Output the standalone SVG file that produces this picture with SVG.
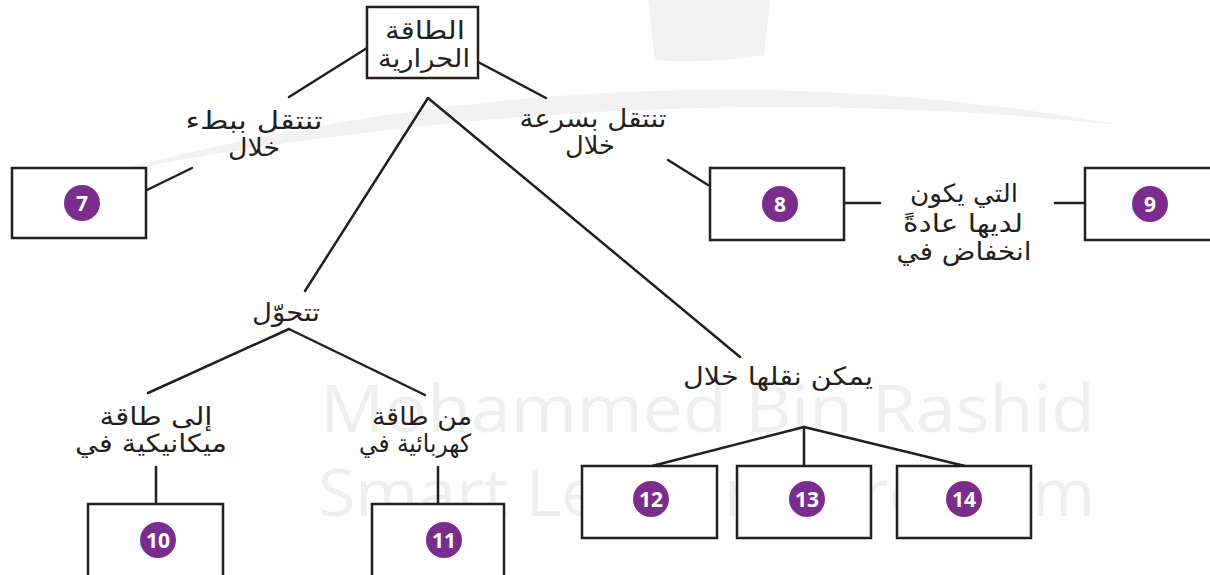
<svg xmlns="http://www.w3.org/2000/svg" width="1210" height="575" viewBox="0 0 1210 575">
<style>
.ln{stroke:#231f20;stroke-width:2.5;fill:none;stroke-linecap:round}
.bx{fill:#fff;stroke:#231f20;stroke-width:2.5}
.ar{font-family:"DejaVu Sans",sans-serif;font-size:25px;fill:#231f20;text-anchor:middle;direction:rtl}
.bd{fill:#7b2d8e}
.num{font-family:"Open Sans",sans-serif;font-weight:700;font-size:21px;fill:#fff;text-anchor:middle;dominant-baseline:central}
.wm{font-family:"Open Sans",sans-serif;font-size:66px;fill:#efefef}
</style>
<rect width="1210" height="575" fill="#fff"/>
<g id="watermark">
<path d="M100,175 Q620,35 1120,125 Q620,72 100,175 Z" fill="#f2f2f2"/>
<path d="M648,0 L770,0 L764,55 Q710,64 655,60 Z" fill="#f2f2f2"/>
<text class="wm" x="320" y="432" textLength="775" lengthAdjust="spacingAndGlyphs">Mohammed Bin Rashid</text>
<text class="wm" x="318" y="516" textLength="777" lengthAdjust="spacingAndGlyphs">Smart Learning Program</text>
</g>
<g id="connectors">
<line class="ln" x1="367" y1="48" x2="289" y2="97"/>
<line class="ln" x1="478" y1="62" x2="546" y2="98"/>
<line class="ln" x1="192" y1="168" x2="147" y2="190"/>
<line class="ln" x1="668" y1="160" x2="708" y2="185"/>
<line class="ln" x1="845" y1="203" x2="880" y2="203"/>
<line class="ln" x1="1055" y1="203" x2="1084" y2="203"/>
<line class="ln" x1="428" y1="98" x2="305" y2="291"/>
<line class="ln" x1="428" y1="98" x2="740" y2="357"/>
<line class="ln" x1="289" y1="329" x2="148" y2="393"/>
<line class="ln" x1="289" y1="329" x2="425" y2="395"/>
<line class="ln" x1="156" y1="467" x2="156" y2="504"/>
<line class="ln" x1="438" y1="467" x2="438" y2="504"/>
<line class="ln" x1="804" y1="427" x2="652" y2="466"/>
<line class="ln" x1="804" y1="427" x2="804" y2="466"/>
<line class="ln" x1="804" y1="427" x2="965" y2="466"/>
</g>
<g id="root">
<rect class="bx" x="367" y="7" width="111" height="71"/>
<text class="ar" x="425" y="39" textLength="80" lengthAdjust="spacingAndGlyphs">الطاقة</text>
<text class="ar" x="424" y="67" textLength="92" lengthAdjust="spacingAndGlyphs">الحرارية</text>
</g>
<g id="label-slow">
<text class="ar" x="254" y="129" textLength="137" lengthAdjust="spacingAndGlyphs">تنتقل ببطء</text>
<text class="ar" x="254" y="156" textLength="52" lengthAdjust="spacingAndGlyphs">خلال</text>
</g>
<g id="label-fast">
<text class="ar" x="593" y="127" textLength="147" lengthAdjust="spacingAndGlyphs">تنتقل بسرعة</text>
<text class="ar" x="590" y="154" textLength="50" lengthAdjust="spacingAndGlyphs">خلال</text>
</g>
<g id="label-low">
<text class="ar" x="964" y="202" textLength="108" lengthAdjust="spacingAndGlyphs">التي يكون</text>
<text class="ar" x="963" y="232" textLength="120" lengthAdjust="spacingAndGlyphs">لديها عادةً</text>
<text class="ar" x="964" y="260" textLength="135" lengthAdjust="spacingAndGlyphs">انخفاض في</text>
</g>
<g id="label-transform">
<text class="ar" x="286" y="321" textLength="68" lengthAdjust="spacingAndGlyphs">تتحوّل</text>
</g>
<g id="label-transfer">
<text class="ar" x="778" y="385" textLength="190" lengthAdjust="spacingAndGlyphs">يمكن نقلها خلال</text>
</g>
<g id="label-mech">
<text class="ar" x="156" y="425" textLength="113" lengthAdjust="spacingAndGlyphs">إلى طاقة</text>
<text class="ar" x="151" y="452" textLength="152" lengthAdjust="spacingAndGlyphs">ميكانيكية في</text>
</g>
<g id="label-elec">
<text class="ar" x="422" y="425" textLength="100" lengthAdjust="spacingAndGlyphs">من طاقة</text>
<text class="ar" x="415" y="452" textLength="112" lengthAdjust="spacingAndGlyphs">كهربائية في</text>
</g>
<g id="box7"><rect class="bx" x="12" y="168" width="134" height="70"/><circle class="bd" cx="82" cy="203" r="18"/><text class="num" x="82" y="203">7</text></g>
<g id="box8"><rect class="bx" x="710" y="168" width="134" height="72"/><circle class="bd" cx="780" cy="204" r="18"/><text class="num" x="780" y="204">8</text></g>
<g id="box9"><rect class="bx" x="1085" y="168" width="140" height="72"/><circle class="bd" cx="1150" cy="204" r="18"/><text class="num" x="1150" y="204">9</text></g>
<g id="box10"><rect class="bx" x="88" y="504" width="135" height="90"/><circle class="bd" cx="158" cy="540" r="18"/><text class="num" x="158" y="540">10</text></g>
<g id="box11"><rect class="bx" x="372" y="504" width="132" height="90"/><circle class="bd" cx="444" cy="540" r="18"/><text class="num" x="444" y="540">11</text></g>
<g id="box12"><rect class="bx" x="582" y="466" width="135" height="72"/><circle class="bd" cx="651" cy="499" r="18"/><text class="num" x="651" y="499">12</text></g>
<g id="box13"><rect class="bx" x="737" y="466" width="134" height="72"/><circle class="bd" cx="807" cy="499" r="18"/><text class="num" x="807" y="499">13</text></g>
<g id="box14"><rect class="bx" x="897" y="466" width="134" height="72"/><circle class="bd" cx="964" cy="499" r="18"/><text class="num" x="964" y="499">14</text></g>
</svg>
